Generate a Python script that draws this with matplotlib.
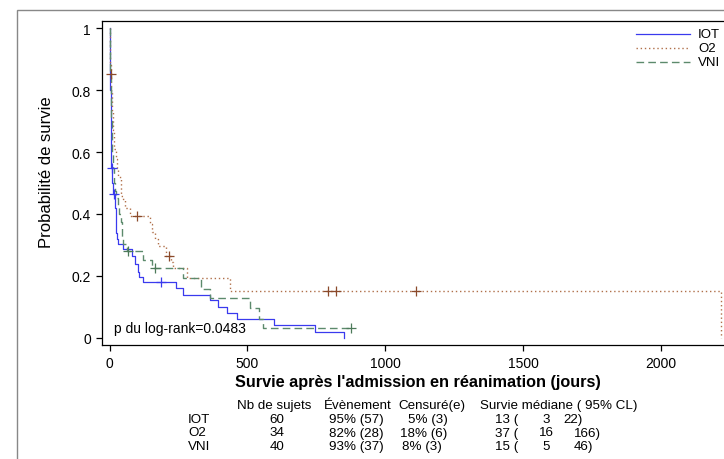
import matplotlib

matplotlib.use("Agg")
import matplotlib.pyplot as plt  # noqa: E402
from matplotlib.lines import Line2D  # noqa: E402
from matplotlib.patches import Rectangle  # noqa: E402

plt.rcParams["font.family"] = ["Liberation Sans", "DejaVu Sans"]

# courbes de Kaplan-Meier (temps en jours, survie après le saut)
iot_t = [0, 1, 2, 3, 4, 5, 7, 10, 14, 19, 22, 25, 28, 32, 48, 80, 92, 102, 108, 122,
         240, 265, 364, 394, 427, 464, 597, 745, 851]
iot_s = [1, .93, .87, .8, .73, .65, .55, .5, .465, .42, .37, .34, .32, .303, .287, .266, .239,
         .214, .196, .18, .16, .139, .124, .099, .081, .061, .042, .018, 0]
iot_cens_t = [8, 16, 187]
iot_cens_s = [.55, .465, .18]

o2_t = [0, 1, 2, 3, 4, 6, 7, 8, 10, 11, 13, 15, 18, 22, 28, 32, 40, 42, 50, 56, 74, 147, 153,
        165, 177, 205, 222, 229, 280, 437, 2218]
o2_s = [1, .941, .912, .882, .853, .823, .792, .762, .731, .701, .670, .640, .609, .579, .548,
        .518, .502, .459, .448, .42, .394, .368, .341, .32, .298, .266, .245, .225, .193, .151, 0]
o2_end = 2218
o2_cens_t = [5, 98, 216, 793, 823, 1110]
o2_cens_s = [.853, .394, .266, .151, .151, .151]

vni_t = [0, 1, 2, 3, 4, 5, 6, 8, 10, 13, 16, 20, 25, 32, 36, 42, 44, 50, 62, 122, 153, 267, 331,
         364, 509, 543, 557]
vni_s = [1, .95, .9, .85, .8, .75, .7, .65, .6, .55, .5, .475, .45, .425, .4, .375, .325, .303,
         .282, .252, .226, .193, .158, .128, .096, .061, .031]
vni_end = 877
vni_cens_t = [68, 165, 877]
vni_cens_s = [.282, .226, .031]

groups = ["IOT", "O2", "VNI"]
nb_sujets = ["60", "34", "40"]
evenement = ["95% (57)", "82% (28)", "93% (37)"]
censure = ["5% (3)", "18% (6)", "8% (3)"]
med = ["13 (", "37 (", "15 ("]
ci_low = ["3", "16", "5"]
ci_high = ["22)", "166)", "46)"]

W, H = 724, 460
fig = plt.figure(figsize=(W / 100, H / 100), dpi=100)


def fx(px):
    return px / W


def fy(py):
    return 1 - py / H


# cadre extérieur (coupé à droite et en bas)
fig.patches.append(Rectangle((fx(17), fy(470)), fx(730), fy(11) - fy(470), transform=fig.transFigure,
                             fill=False, edgecolor="#888888", linewidth=1.0))

ax = fig.add_axes([fx(102), fy(346), 1 - fx(102), fy(22) - fy(346)])
ax.set_xlim(-27.2, 2228)
ax.set_ylim(-0.0226, 1.0226)

blue = "#3a3aee"
brown = "#b0704a"
green = "#5c8a6c"
styles = [dict(color=blue, lw=0.9, linestyle="-"),
          dict(color=brown, lw=1.0, linestyle=(0, (1, 2))),
          dict(color=green, lw=1.0, linestyle=(0, (5.5, 3)))]

ax.step(iot_t, iot_s, where="post", **styles[0])
ax.step(o2_t + [o2_end], o2_s + [o2_s[-1]], where="post", **styles[1])
ax.step(vni_t + [vni_end], vni_s + [vni_s[-1]], where="post", **styles[2])

ax.plot(iot_cens_t, iot_cens_s, "+", color=blue, ms=7, mew=0.9)
ax.plot(o2_cens_t, o2_cens_s, "+", color="#8b4a2b", ms=7, mew=0.9)
ax.plot(vni_cens_t, vni_cens_s, "+", color="#4d7a5a", ms=7, mew=0.9)

ax.set_xticks([0, 500, 1000, 1500, 2000])
ax.set_yticks([0, 0.2, 0.4, 0.6, 0.8, 1])
ax.set_yticklabels(["0", "0.2", "0.4", "0.6", "0.8", "1"])
ax.tick_params(direction="out", length=4, width=0.9, labelsize=10, pad=4)
ax.spines["right"].set_visible(False)
for s in ["left", "bottom", "top"]:
    ax.spines[s].set_linewidth(0.9)

ax.text(0.0193, 0.03, "p du log-rank=0.0483", transform=ax.transAxes, fontsize=10, va="bottom")

# légende dessinée à la main (coin haut droit)
for i, g in enumerate(groups):
    ly = fy(35 + 14 * i)
    fig.add_artist(Line2D([fx(636), fx(690)], [ly, ly], transform=fig.transFigure, **styles[i]))
    fig.text(fx(698), ly, g, fontsize=9.5, va="center")

fig.text(fx(47), fy(172), "Probabilité de survie", rotation=90, fontsize=12, ha="center", va="center")
fig.text(fx(418), fy(383), "Survie après l'admission en réanimation (jours)", fontsize=11.7,
         fontweight="bold", ha="center", va="center")

# tableau récapitulatif
fs = 9.6
hy = 406
fig.text(fx(237), fy(hy), "Nb de sujets", fontsize=fs, va="center")
fig.text(fx(324), fy(hy), "Évènement", fontsize=fs, va="center")
fig.text(fx(398), fy(hy), "Censuré(e)", fontsize=fs, va="center")
fig.text(fx(480), fy(hy), "Survie médiane ( 95% CL)", fontsize=fs, va="center")
cens_x = [408, 400, 402]
high_x = [563, 574, 574]
for i, g in enumerate(groups):
    y = fy(420 + 13.5 * i)
    fig.text(fx(188), y, g, fontsize=fs, va="center")
    fig.text(fx(277), y, nb_sujets[i], fontsize=fs, va="center", ha="center")
    fig.text(fx(329), y, evenement[i], fontsize=fs, va="center")
    fig.text(fx(cens_x[i]), y, censure[i], fontsize=fs, va="center")
    fig.text(fx(495), y, med[i], fontsize=fs, va="center")
    fig.text(fx(546), y, ci_low[i], fontsize=fs, va="center", ha="center")
    fig.text(fx(high_x[i]), y, ci_high[i], fontsize=fs, va="center")

fig.savefig("out.png", dpi=100)
